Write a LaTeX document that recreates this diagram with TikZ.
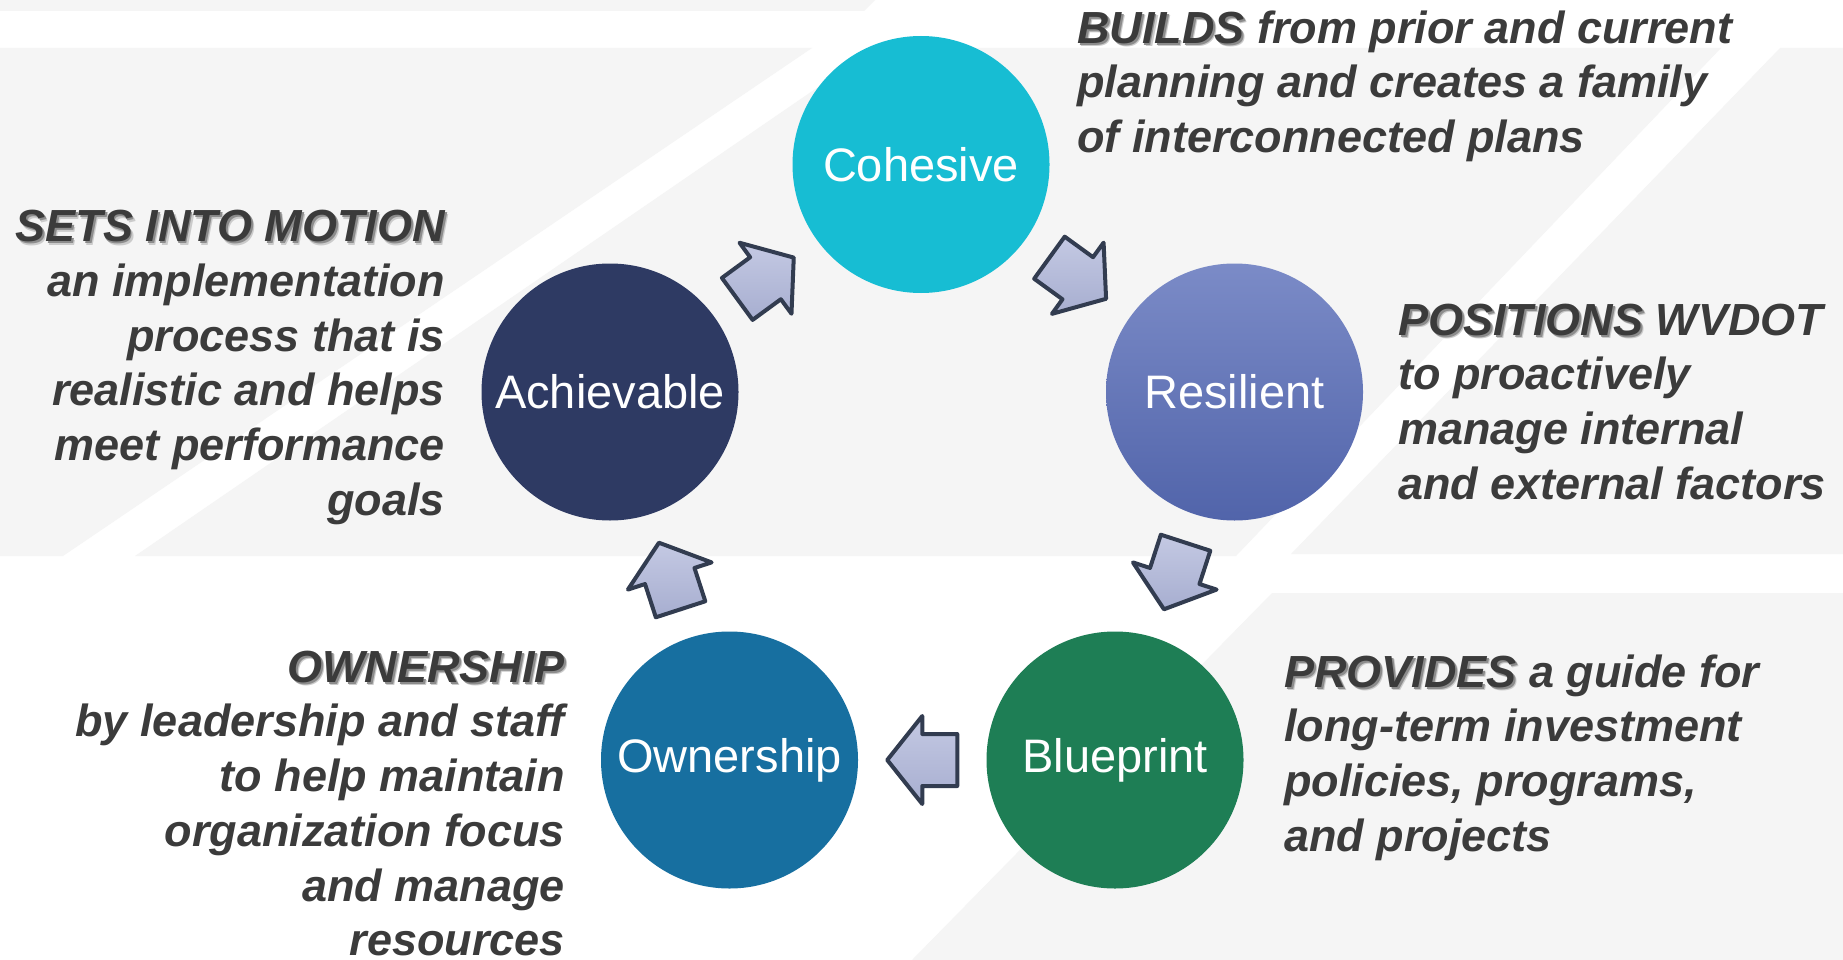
\documentclass[tikz,border=0pt]{standalone}
\usepackage{fontspec}
\setmainfont{Liberation Sans}
\usetikzlibrary{calc}
\definecolor{bggrey}{HTML}{F5F5F5}
\definecolor{txt}{HTML}{3B3B3B}
\definecolor{shadowc}{HTML}{8C8C8C}
\definecolor{cohc}{HTML}{17BDD3}
\definecolor{achc}{HTML}{2E3A63}
\definecolor{resTop}{HTML}{7B8BC7}
\definecolor{resBot}{HTML}{5164AA}
\definecolor{ownc}{HTML}{176FA0}
\definecolor{bluc}{HTML}{1E7E55}
\definecolor{arrLight}{HTML}{C4C9E3}
\definecolor{arrDark}{HTML}{A7AED0}
\definecolor{arrEdge}{HTML}{323C50}
\newcommand\shd[1]{\leavevmode\rlap{\hspace{3pt}\raisebox{-3.5pt}{\textcolor{shadowc!45!white}{#1}}}\rlap{\hspace{1.8pt}\raisebox{-2pt}{\textcolor{shadowc}{#1}}}#1}
\newcommand\cyclearrow[2]{\path let \p1=($(#2)-(#1)$), \n1={atan2(\y1,\x1)} in ($(#1)!0.5!(#2)$) pic[rotate=\n1]{blockarrow};}
\begin{document}
\begin{tikzpicture}[x=1pt,y=-1pt,
  circ/.style={circle, minimum size=257pt, inner sep=0pt, text=white, font=\fontsize{47}{56}\selectfont},
  desc/.style={inner sep=0pt, text=txt, font=\fontsize{45}{54.7}\selectfont\bfseries\itshape},
  bg/.style={fill=bggrey, draw=none},
  blockarrow/.pic={\path[top color=arrLight, bottom color=arrDark, draw=arrEdge, line width=4pt, line join=round] (-35,-26) -- (0,-26) -- (0,-44) -- (35,0) -- (0,44) -- (0,26) -- (-35,26) -- cycle;}
]
\useasboundingbox (0,0) rectangle (1843,960);
\fill[white] (0,0) rectangle (1843,960);
% background bands
\path[bg] (0,0) -- (875,0) -- (864,11) -- (0,11) -- cycle;
\path[bg] (0,48) -- (812,48) -- (63,556) -- (0,556) -- cycle;
\path[bg] (875,48) -- (1721,48) -- (1236,556) -- (135,556) -- cycle;
\path[bg] (1780,48) -- (1843,48) -- (1843,554) -- (1291,554) -- cycle;
\path[bg] (1272,593) -- (1843,593) -- (1843,960) -- (912,960) -- cycle;
% circles
\node[circ, fill=cohc] (coh) at (921,164.5) {Cohesive};
\node[circ, fill=achc] (ach) at (610,392) {Achievable};
\node[circ, top color=resTop, bottom color=resBot] (res) at (1234.5,392) {Resilient};
\node[circ, fill=ownc] (own) at (729.5,760) {Ownership};
\node[circ, fill=bluc] (blu) at (1115,760) {Blueprint};
% cycle arrows
\cyclearrow{ach}{coh}
\cyclearrow{coh}{res}
\cyclearrow{res}{blu}
\cyclearrow{blu}{own}
\cyclearrow{own}{ach}
% descriptions
\node[desc, anchor=north west, align=left] (tcoh) at (1077,8) {\rule{0pt}{35pt}\shd{BUILDS} from prior and current\\planning and creates a family\\of interconnected plans};
\node[desc, anchor=north east, align=right] (tach) at (445,206.5) {\rule{0pt}{35pt}\shd{SETS INTO MOTION}\\an implementation\\process that is\\realistic and helps\\meet performance\\goals};
\node[desc, anchor=north west, align=left] (tres) at (1398,300) {\rule{0pt}{35pt}\shd{POSITIONS} WVDOT\\to proactively\\manage internal\\and external factors};
\node[desc, anchor=north east, align=right] (town) at (565,647) {\rule{0pt}{35pt}\shd{OWNERSHIP}\\by leadership and staff\\to help maintain\\organization focus\\and manage\\resources};
\node[desc, anchor=north west, align=left] (tblu) at (1284,652) {\rule{0pt}{35pt}\shd{PROVIDES} a guide for\\long-term investment\\policies, programs,\\and projects};
\end{tikzpicture}
\end{document}
